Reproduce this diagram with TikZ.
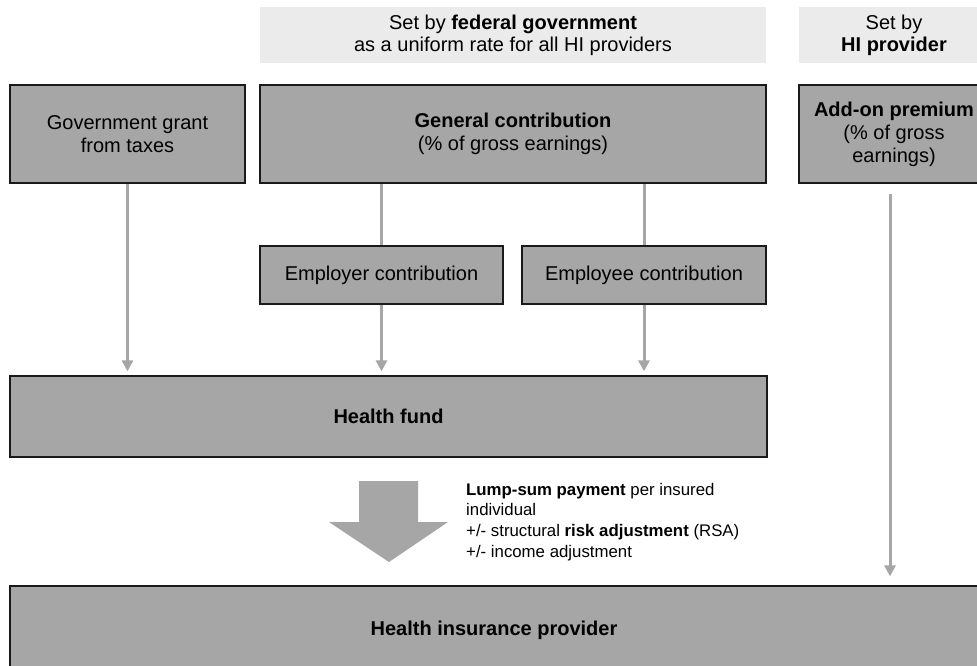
\documentclass[tikz,border=0pt]{standalone}
\usepackage{fontspec}
\setmainfont{Liberation Sans}
\usetikzlibrary{arrows.meta,calc}
\definecolor{boxgray}{HTML}{A6A6A6}
\definecolor{hdrgray}{HTML}{EBEBEB}
\definecolor{edgecol}{HTML}{1A1A1A}
\tikzset{
  hdrbox/.style={rectangle, fill=hdrgray, draw=none, inner sep=0pt, align=center,
    font=\fontsize{20}{22}\selectfont},
  flowbox/.style={rectangle, fill=boxgray, draw=edgecol, line width=1.2pt, inner sep=0pt,
    align=center, font=\fontsize{20}{23}\selectfont},
  flowline/.style={draw=boxgray, line width=3pt},
  flowarrow/.style={flowline, -{Triangle[length=11pt,width=11pt]}},
  notetext/.style={inner sep=0pt, align=left, font=\fontsize{16.8}{20.7}\selectfont}
}
\begin{document}
\begin{tikzpicture}[x=1pt,y=-1pt]
\useasboundingbox (0,0) rectangle (977,666);
\clip (0,0) rectangle (977,666);
% headers
\node[hdrbox, minimum width=506pt, minimum height=56pt] (hdrA) at (513,35)
  {Set by \textbf{federal government}\\as a uniform rate for all HI providers};
\node[hdrbox, minimum width=190pt, minimum height=56pt] (hdrB) at (894,35)
  {Set by\\\textbf{HI provider}};
% top row
\node[flowbox, minimum width=235pt, minimum height=98pt] (grant) at (127.5,134)
  {Government grant\\from taxes};
\node[flowbox, minimum width=506pt, minimum height=98pt] (general) at (513,134)
  {\textbf{General contribution}\\(\% of gross earnings)};
\node[flowbox, minimum width=190pt, minimum height=98pt] (addon) at (894,134)
  {\textbf{Add-on premium}\\(\% of gross\\earnings)};
% middle row
\node[flowbox, minimum width=243pt, minimum height=58pt] (employer) at (381.5,275)
  {Employer contribution};
\node[flowbox, minimum width=244pt, minimum height=58pt] (employee) at (644,275)
  {Employee contribution};
% fund
\node[flowbox, minimum width=757pt, minimum height=81pt] (fund) at (388.5,416.5)
  {\textbf{Health fund}};
% provider
\node[flowbox, minimum width=968pt, minimum height=89pt] (provider) at (494,630.5)
  {\textbf{Health insurance provider}};
% connectors
\draw[flowarrow, shorten >=4pt] (grant.south) -- (grant.south |- fund.north);
\draw[flowline] (employer.north |- general.south) -- (employer.north);
\draw[flowline] (employee.north |- general.south) -- (employee.north);
\draw[flowarrow, shorten >=4pt] (employer.south) -- (employer.south |- fund.north);
\draw[flowarrow, shorten >=4pt] (employee.south) -- (employee.south |- fund.north);
\coordinate (addonstart) at ($(addon.south)+(-4,10)$);
\draw[flowarrow, shorten >=9pt] (addonstart) -- (addonstart |- provider.north);
% big arrow
\fill[boxgray] (359,481) -- (418,481) -- (418,522) -- (448,522) -- (389,562)
  -- (329,522) -- (359,522) -- cycle;
\node[notetext, anchor=west] (note) at (466,522)
  {\textbf{Lump-sum payment} per insured\\individual\\+/- structural \textbf{risk adjustment} (RSA)\\+/- income adjustment};
\end{tikzpicture}
\end{document}
